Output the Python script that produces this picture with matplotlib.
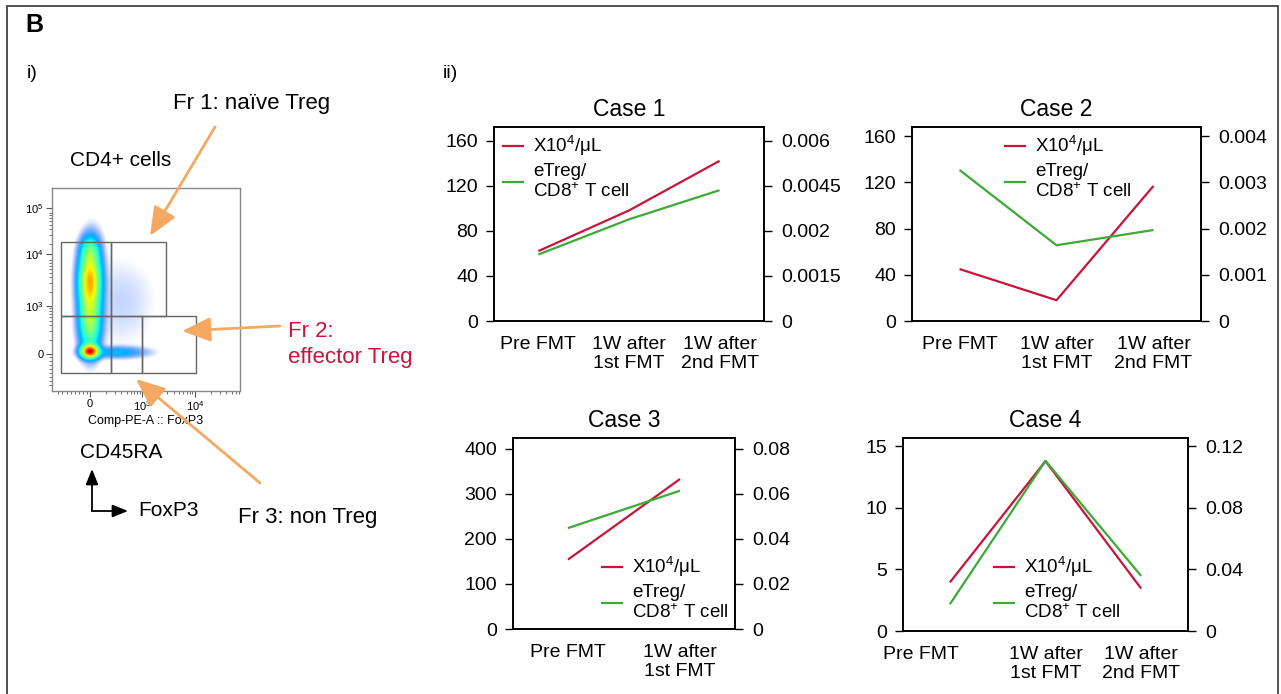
import numpy as np
import matplotlib
matplotlib.use("Agg")
import matplotlib.pyplot as plt
from matplotlib.patches import Rectangle, FancyArrowPatch
from matplotlib.lines import Line2D

plt.rcParams['font.family'] = ['Liberation Sans', 'DejaVu Sans']
plt.rcParams['mathtext.default'] = 'regular'

# data
stages = ["Pre FMT", "1W after\n1st FMT", "1W after\n2nd FMT"]
case1_count = [62, 98, 142]
case1_ratio = [0.00221, 0.00338, 0.00435]
case2_count = [45, 18, 117]
case2_ratio = [0.00327, 0.00164, 0.00197]
case3_count = [154, 333]
case3_ratio = [0.0448, 0.0614]
case4_count = [3.95, 13.8, 3.45]
case4_ratio = [0.0174, 0.1106, 0.0358]

left_ticks = {1: [0, 40, 80, 120, 160], 2: [0, 40, 80, 120, 160],
              3: [0, 100, 200, 300, 400], 4: [0, 5, 10, 15]}
right_ticks = {1: [0, 0.0015, 0.003, 0.0045, 0.006], 2: [0, 0.001, 0.002, 0.003, 0.004],
               3: [0, 0.02, 0.04, 0.06, 0.08], 4: [0, 0.04, 0.08, 0.12]}
right_labels = {1: ['0', '0.0015', '0.002', '0.0045', '0.006'],
                2: ['0', '0.001', '0.002', '0.003', '0.004'],
                3: ['0', '0.02', '0.04', '0.06', '0.08'],
                4: ['0', '0.04', '0.08', '0.12']}

# flow plot: blobs of the density (x, y in display units, sx, sy, weight)
blob_x = [0.0, 0.0, 0.0, 0.0, 0.5, 0.6, 0.05]
blob_y = [1.4, 0.05, 0.65, 1.95, 0.03, 1.0, 2.1]
blob_sx = [0.11, 0.09, 0.11, 0.1, 0.32, 0.42, 0.12]
blob_sy = [0.32, 0.07, 0.32, 0.17, 0.06, 0.55, 0.25]
blob_w = [1.0, 1.7, 0.5, 0.25, 0.09, 0.01, 0.02]

W, H = 1281, 694
RED = '#C8143A'
GREEN = '#3CAA35'
ORANGE = '#F5A862'

fig = plt.figure(figsize=(W / 100, H / 100), dpi=100)


def rect(l, t, r, b):
    return [l / W, 1 - b / H, (r - l) / W, (b - t) / H]


def fx(px):
    return px / W


def fy(py):
    return 1 - py / H


# outer frame
fig.patches.append(Rectangle((fx(7), fy(700)), fx(1278) - fx(7), fy(6) - fy(700),
                             transform=fig.transFigure, fill=False, ec='#333333', lw=1.2))
fig.text(fx(25), fy(25), 'B', fontsize=18, fontweight='bold', va='center')
fig.text(fx(27), fy(73), 'i)', fontsize=14, va='center')
fig.text(fx(443), fy(73), 'ii)', fontsize=14, va='center')


# ---- line charts ----
def case_plot(n, box, counts, ratios, ylim_top, leg_xy, tickpos=None):
    ax = fig.add_axes(rect(*box))
    x = np.arange(len(counts))
    ax.plot(x, counts, color=RED, lw=1.6, solid_capstyle='butt')
    ax.set_xlim(-0.49, len(counts) - 0.51)
    ax.set_ylim(0, ylim_top)
    ax.set_yticks(left_ticks[n])
    ax.set_xticks(x if tickpos is None else tickpos)
    ax.set_xticklabels(stages[:len(counts)], fontsize=14, linespacing=1.1)
    ax.tick_params(axis='x', length=0, pad=11)
    ax.tick_params(axis='y', labelsize=14, length=5.5, width=1, direction='out', pad=6)
    ax2 = ax.twinx()
    ax2.plot(x, ratios, color=GREEN, lw=1.6, solid_capstyle='butt')
    ax2.set_ylim(0, ylim_top * right_ticks[n][-1] / left_ticks[n][-1])
    ax2.set_yticks(right_ticks[n])
    ax2.set_yticklabels(right_labels[n])
    ax2.tick_params(axis='y', labelsize=14, length=5.5, width=1, direction='out', pad=7)
    for a in (ax, ax2):
        for s in a.spines.values():
            s.set_linewidth(1.2)
    ax.set_title('Case %d' % n, fontsize=16.5, pad=8)
    handles = [Line2D([], [], color=RED, lw=1.6), Line2D([], [], color=GREEN, lw=1.6)]
    fig.legend(handles, ['X10$^{4}$/μL', 'eTreg/\nCD8$^{+}$ T cell'], loc='upper left',
               bbox_to_anchor=(fx(leg_xy[0]), fy(leg_xy[1])), frameon=False, fontsize=13.5,
               handlelength=1.05, handletextpad=0.55, borderpad=0, borderaxespad=0,
               labelspacing=0.25)
    return ax


case_plot(1, (494, 127, 764, 321), case1_count, case1_ratio, 172, (503, 134))
case_plot(2, (912, 127, 1201, 321), case2_count, case2_ratio, 168, (1005, 134))
case_plot(3, (513, 438, 735, 629), case3_count, case3_ratio, 424, (602, 555))
case_plot(4, (903, 438, 1188, 631), case4_count, case4_ratio, 15.68, (994, 555),
          tickpos=[-0.3, 1, 2])

# ---- flow cytometry panel ----
fa = fig.add_axes(rect(52, 188, 240, 391))
xlo, xhi = -0.72, 2.86
ylo, yhi = -0.71, 3.19
gx, gy = np.meshgrid(np.linspace(xlo, xhi, 360), np.linspace(ylo, yhi, 390))
dens = np.zeros_like(gx)
for bx, by, sx, sy, w in zip(blob_x, blob_y, blob_sx, blob_sy, blob_w):
    dens += w * np.exp(-0.5 * (((gx - bx) / sx) ** 2 + ((gy - by) / sy) ** 2))
cval = np.clip(dens / 1.9, 0, 1) ** 0.55
rgba = plt.get_cmap('jet')(0.16 + 0.8 * cval)
rgba[..., 3] = np.clip((np.log10(dens + 1e-12) + 2.6) / 1.5, 0, 1) ** 1.6
fa.imshow(rgba, extent=(xlo, xhi, ylo, yhi), origin='lower', aspect='auto',
          interpolation='bilinear')
fa.set_xlim(xlo, xhi)
fa.set_ylim(ylo, yhi)
for s in fa.spines.values():
    s.set_color('#888888')
    s.set_linewidth(1)
fa.set_xticks([0, 1, 2])
fa.set_xticklabels(['0', '$10^{3}$', '$10^{4}$'], fontsize=8)
fa.set_yticks([0, 0.92, 1.92, 2.81])
fa.set_yticklabels(['0', '$10^{3}$', '$10^{4}$', '$10^{5}$'], fontsize=8)
minor = []
for k in range(3):
    minor += [k + np.log10(m) for m in range(2, 10)]
fa.set_xticks([m for m in minor if m < xhi] + list(np.linspace(-0.6, -0.05, 8)), minor=True)
fa.set_yticks([m * 0.92 for m in minor if m * 0.92 < yhi] + list(np.linspace(-0.6, -0.05, 8)),
              minor=True)
fa.tick_params(which='major', length=4, width=0.8, color='#555555', pad=2)
fa.tick_params(which='minor', length=2, width=0.6, color='#555555')
fa.set_xlabel('Comp-PE-A :: FoxP3', fontsize=9, labelpad=1)

# gates (display units)
gate_x0 = [-0.54, 0.394, -0.54, 0.394, 0.996]
gate_x1 = [0.394, 1.46, 0.394, 0.996, 2.02]
gate_y0 = [0.73, 0.73, -0.37, -0.37, -0.37]
gate_y1 = [2.15, 2.15, 0.73, 0.73, 0.73]
for x0, x1, y0, y1 in zip(gate_x0, gate_x1, gate_y0, gate_y1):
    fa.add_patch(Rectangle((x0, y0), x1 - x0, y1 - y0, fill=False, ec='#666666', lw=1))

fig.text(fx(70), fy(160), 'CD4+ cells', fontsize=15, va='center')
fig.text(fx(173), fy(103), 'Fr 1: naïve Treg', fontsize=16, va='center')
fig.text(fx(288), fy(332), 'Fr 2:', fontsize=16, va='center', color=RED)
fig.text(fx(288), fy(358), 'effector Treg', fontsize=16, va='center', color=RED)
fig.text(fx(238), fy(518), 'Fr 3: non Treg', fontsize=16, va='center')
fig.text(fx(80), fy(452), 'CD45RA', fontsize=15, va='center')
fig.text(fx(138), fy(511), 'FoxP3', fontsize=15, va='center')

# orange pointers
for (x0, y0), (x1, y1) in [((215, 127), (150, 236)), ((280, 326), (182, 331)),
                           ((260, 483), (136, 379))]:
    fig.add_artist(FancyArrowPatch(
        (fx(x0), fy(y0)), (fx(x1), fy(y1)), transform=fig.transFigure,
        arrowstyle='-|>,head_length=8,head_width=3.4', mutation_scale=2.2,
        color=ORANGE, lw=2, shrinkA=0, shrinkB=0))

# axis direction arrows
for (x0, y0), (x1, y1) in [((92, 511), (92, 469)), ((92, 511), (128, 511))]:
    fig.add_artist(FancyArrowPatch(
        (fx(x0), fy(y0)), (fx(x1), fy(y1)), transform=fig.transFigure,
        arrowstyle='-|>,head_length=4.7,head_width=1.9', mutation_scale=2,
        color='black', lw=1.3, shrinkA=0, shrinkB=0))

fig.savefig('out.png', dpi=100)
